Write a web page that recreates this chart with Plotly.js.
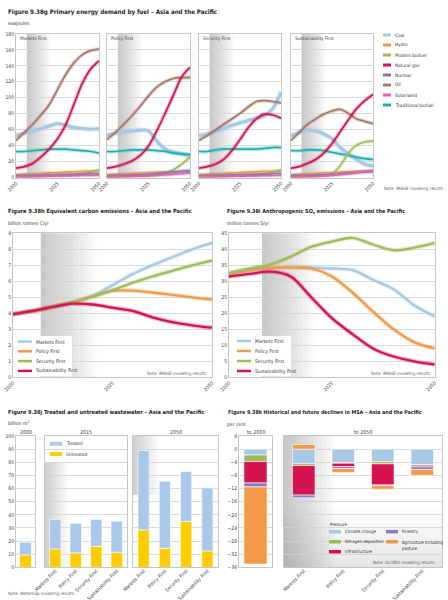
<!DOCTYPE html>
<html><head><meta charset="utf-8">
<script src="https://cdn.plot.ly/plotly-3.0.1.min.js"></script>
<style>html,body{margin:0;padding:0;background:#fff}#chart{width:448px;height:600px}</style>
</head><body><div id="chart"></div>
<script>
// ---------- DATA ----------
const years = [2000, 2005, 2010, 2015, 2020, 2025, 2030, 2035, 2040, 2045, 2050];
const scenarios = ['Markets First', 'Policy First', 'Security First', 'Sustainability First'];
const fuels = ['Coal', 'Hydro', 'Modern biofuel', 'Natural gas', 'Nuclear', 'Oil', 'Solar/wind', 'Traditional biofuel'];

// Primary energy demand (exajoules) – Markets First
const coalMF    = [52, 55, 58, 61, 64, 67, 65, 62, 61, 60, 61];
const hydroMF   = [3, 3.5, 4, 4.5, 5, 5.5, 6, 6.5, 7, 7.5, 8];
const bioMF     = [0, 0, 0.5, 1, 1.5, 2, 2.5, 3, 4, 6, 8.5];
const gasMF     = [11, 13, 17, 25, 35, 48, 66, 92, 118, 136, 146];
const nuclearMF = [1.5, 1.7, 2, 2.2, 2.5, 2.8, 3, 3.3, 3.6, 4, 4.3];
const oilMF     = [46, 56, 66, 78, 91, 110, 129, 144, 154, 159, 161];
const solarMF   = [0.3, 0.4, 0.5, 0.7, 0.9, 1.1, 1.3, 1.5, 1.8, 2, 2.3];
const tradMF    = [32, 32, 33, 34, 35, 35, 35, 34, 33, 32, 30];
// Policy First
const coalPF    = [52, 55, 57, 58, 59, 58, 45, 35, 31, 29, 27];
const hydroPF   = [3, 3.5, 4, 4.5, 5, 5.5, 6, 6, 6.5, 7, 7];
const bioPF     = [0, 0, 0.5, 1, 1.5, 2, 3, 5, 9, 16, 25];
const gasPF     = [11, 13, 16, 20, 27, 39, 58, 80, 103, 126, 138];
const nuclearPF = [1.5, 1.7, 2, 2.3, 2.7, 3.2, 4, 5, 6, 7, 8];
const oilPF     = [47, 56, 66, 77, 89, 102, 113, 120, 124, 125, 125];
const solarPF   = [0.3, 0.4, 0.5, 0.7, 1, 1.3, 1.8, 2.5, 3.3, 4.2, 5];
const tradPF    = [32, 32, 33, 34, 34, 34, 33, 32, 30, 29, 28];
// Security First
const coalSF    = [52, 54, 57, 61, 65, 68, 71, 74, 77, 86, 107];
const hydroSF   = [3, 3.5, 4, 4.5, 5, 5.5, 6, 6.5, 7, 7, 7.5];
const bioSF     = [0, 0, 0.5, 1, 1.5, 2, 2.5, 3, 4, 6, 9];
const gasSF     = [11, 13, 16, 22, 33, 47, 62, 73, 79, 78, 74];
const nuclearSF = [1.5, 1.7, 2, 2.2, 2.5, 2.7, 3, 3.3, 3.6, 4, 4.5];
const oilSF     = [46, 52, 59, 66, 73, 80, 88, 95, 96, 95, 93];
const solarSF   = [0.3, 0.4, 0.5, 0.6, 0.8, 1, 1.2, 1.4, 1.6, 1.8, 2];
const tradSF    = [32, 32, 34, 35, 35, 35, 35, 35, 36, 37, 37];
// Sustainability First
const coalSus    = [52, 56, 59, 58, 54, 48, 37, 29, 22, 16, 14];
const hydroSus   = [3, 3.5, 4, 4.5, 5, 5.5, 6, 6.5, 7, 7.5, 8];
const bioSus     = [0, 0, 0.5, 1, 2, 4, 14, 30, 40, 44, 45];
const gasSus     = [11, 13, 17, 22, 30, 42, 57, 72, 86, 96, 104];
const nuclearSus = [1.5, 1.7, 2, 2.3, 2.7, 3.2, 4, 5, 5.5, 6, 6.5];
const oilSus     = [46, 56, 66, 73, 79, 83, 85, 80, 73, 70, 67];
const solarSus   = [0.3, 0.4, 0.5, 0.8, 1.2, 1.8, 2.8, 4, 5.5, 6.8, 7.8];
const tradSus    = [33, 33, 34, 34, 33, 31, 29, 27, 25, 23, 22];

// Equivalent carbon emissions (billion tonnes C/yr)
const carbonMF  = [3.95, 4.15, 4.4, 4.7, 5.1, 5.75, 6.45, 7.0, 7.5, 8.0, 8.4];
const carbonPF  = [3.95, 4.15, 4.4, 4.7, 5.05, 5.4, 5.42, 5.3, 5.15, 5.0, 4.85];
const carbonSF  = [3.95, 4.15, 4.4, 4.7, 5.05, 5.45, 5.9, 6.3, 6.65, 7.0, 7.3];
const carbonSus = [3.95, 4.15, 4.4, 4.6, 4.55, 4.35, 4.15, 3.75, 3.45, 3.25, 3.1];

// Anthropogenic SOx emissions (million tonnes S/yr)
const soxMF  = [32.5, 33.5, 34.2, 34.5, 34.3, 34, 33.5, 30.5, 27.5, 22.5, 19];
const soxPF  = [32.5, 33.5, 34.2, 34.3, 34, 31.5, 26.5, 20.5, 15, 11, 9];
const soxSF  = [32.5, 34, 35.2, 37.7, 40.8, 42.4, 43.6, 41.5, 39.7, 40.5, 42];
const soxSus = [31.5, 32.3, 33, 31.5, 25, 18.5, 13.5, 9, 6.5, 5, 4];

// Wastewater (billion m3)
const wwLabel2000 = ['2000'];
const untreated2000 = [9.5];
const treated2000   = [9.5];
const untreated2015 = [14, 11, 16, 11.5];
const treated2015   = [22.5, 22.5, 20.5, 23.5];
const untreated2050 = [28.5, 14.5, 35, 12.5];
const treated2050   = [60.5, 51, 38, 48];

// MSA declines (per cent)
const pressures = ['Climate change', 'Nitrogen deposition', 'Infrastructure', 'Forestry', 'Agriculture including pasture'];
const msaLabel2000 = ['to 2000'];
const msa2000 = [-1.8, -2.0, -6.5, -1.2, -23.5]; // one value per pressure
const msaClimate2050   = [-4.4, -4.1, -3.8, -4.7];
const msaNitrogen2050  = [-0.6, -0.2, -0.7, -0.2];
const msaInfra2050     = [-9.0, -1.0, -6.4, -0.5];
const msaForestry2050  = [-0.8, -0.6, -0.3, -0.8];
const msaAgri2050      = [1.4, -1.2, -1.0, -1.8];

// ---------- STYLE ----------
const fuelColors = ['#a9c8e6', '#f39a4a', '#9dbd5c', '#d4134f', '#7d7bb8', '#a57868', '#e064a8', '#1eb3a9'];
const scenarioColors = ['#a9c8e6', '#f39a4a', '#9dbd5c', '#d4134f'];
const pressureColors = ['#a9c8e6', '#9dbd5c', '#d4134f', '#8a7cc0', '#f39a4a'];
const treatedColor = '#aac9ea', untreatedColor = '#ffcc00';
const fontFam = "'Liberation Sans Narrow','DejaVu Sans Condensed','Liberation Sans',Arial,sans-serif";
const txt = '#3a3a3a';

const P = px => px / 448;
const Q = py => 1 - py / 600;

const layout = {
  width: 448, height: 600, margin: {l: 0, r: 0, t: 0, b: 0},
  paper_bgcolor: '#ffffff', plot_bgcolor: '#ffffff', showlegend: false,
  barmode: 'relative', font: {family: fontFam, size: 5, color: txt},
  shapes: [], annotations: []
};

function xAx(d, anchor, extra) {
  return Object.assign({domain: [P(d[0]), P(d[1])], anchor, showline: true, mirror: true,
    linecolor: '#c6c6c6', linewidth: 1, showgrid: false, zeroline: false, ticks: '',
    tickfont: {size: 5, color: txt}, fixedrange: true, automargin: false}, extra);
}
function yAx(d, anchor, extra) {
  return Object.assign({domain: [Q(d[1]), Q(d[0])], anchor, showline: true, mirror: true,
    linecolor: '#c6c6c6', linewidth: 1, showgrid: true, gridcolor: '#d2d2d2', gridwidth: 0.8,
    zeroline: false, ticks: '', tickfont: {size: 5, color: txt}, fixedrange: true, automargin: false}, extra);
}
function gradient(xref, yref, x0, x1, n, alpha) {
  for (let k = 1; k <= n; k++) {
    layout.shapes.push({type: 'rect', xref, yref: yref + ' domain', x0, x1: x0 + (x1 - x0) * k / n,
      y0: 0, y1: 1, fillcolor: 'rgba(110,110,110,' + alpha + ')', line: {width: 0}, layer: 'below'});
  }
}
function note(text, px, py, opts) {
  layout.annotations.push(Object.assign({text, x: P(px), y: Q(py), xref: 'paper', yref: 'paper',
    xanchor: 'left', yanchor: 'middle', showarrow: false, borderpad: 0,
    font: {size: 5, color: txt}}, opts || {}));
}
function title(text, px, py, size) {
  note('<b>' + text + '</b>', px, py, {font: {size, color: '#1e1e1e'}});
}
function swatch(x0, x1, py, color, w) {
  layout.shapes.push({type: 'line', xref: 'paper', yref: 'paper', x0: P(x0), x1: P(x1),
    y0: Q(py), y1: Q(py), line: {color, width: w}, layer: 'above'});
}
function line(x, y, xa, ya, color, w) {
  data.push({type: 'scatter', mode: 'lines', x, y, xaxis: xa, yaxis: ya, hoverinfo: 'skip',
    line: {color, width: w + 2.4, shape: 'spline', smoothing: 0.9}, opacity: 0.28});
  data.push({type: 'scatter', mode: 'lines', x, y, xaxis: xa, yaxis: ya, hoverinfo: 'skip',
    line: {color, width: w, shape: 'spline', smoothing: 0.9}});
}
const sfx = i => i === 0 ? '' : String(i + 1);
const data = [];
const legFont = {size: 4.7, color: '#333'};
const catTick = {size: 5, color: txt};

// ---------- 9.38g ----------
const energy = [
  [coalMF, hydroMF, bioMF, gasMF, nuclearMF, oilMF, solarMF, tradMF],
  [coalPF, hydroPF, bioPF, gasPF, nuclearPF, oilPF, solarPF, tradPF],
  [coalSF, hydroSF, bioSF, gasSF, nuclearSF, oilSF, solarSF, tradSF],
  [coalSus, hydroSus, bioSus, gasSus, nuclearSus, oilSus, solarSus, tradSus]
];
const topXpx = [[16, 99], [107, 190], [199, 281], [291, 373]];
const drawOrder = [0, 7, 1, 2, 4, 6, 5, 3];
scenarios.forEach((sc, i) => {
  const xa = 'x' + sfx(i), ya = 'y' + sfx(i);
  layout['xaxis' + sfx(i)] = xAx(topXpx[i], ya, {range: [2000, 2050], tickvals: [2000, 2025, 2050], tickangle: -45});
  layout['yaxis' + sfx(i)] = yAx([34, 177.7], xa, {range: [-1, 180], tick0: 0, dtick: 20, showticklabels: i === 0});
  gradient(xa, ya, 2006.5, 2021, 12, 0.035);
  drawOrder.forEach(f => line(years, energy[i][f], xa, ya, fuelColors[f], f === 0 ? 3.2 : 1.7));
  note(sc, topXpx[i][0] + 3, 38.5, {font: {size: 4.7, color: '#444'}});
});
title('Figure 9.38g Primary energy demand by fuel – Asia and the Pacific', 7, 12, 6.2);
note('exajoules', 7, 23);
fuels.forEach((f, k) => {
  swatch(383, 391, 35 + 10 * k, fuelColors[k], 3);
  note(f, 393.5, 35 + 10 * k, {font: legFont});
});
note('Note: IMAGE modeling results.', 383, 188, {font: {size: 4.4, color: '#666'}});

// ---------- 9.38h ----------
layout.xaxis5 = xAx([13, 212], 'y5', {range: [2000, 2050], tickvals: [2000, 2025, 2050], tickangle: -45});
layout.yaxis5 = yAx([233.3, 377.3], 'x5', {range: [0, 9], dtick: 1});
gradient('x5', 'y5', 2007, 2021, 12, 0.035);
[carbonMF, carbonPF, carbonSF, carbonSus].forEach((s, k) => line(years, s, 'x5', 'y5', scenarioColors[k], 2.3));
title('Figure 9.38h Equivalent carbon emissions – Asia and the Pacific', 7, 212, 5.7);
note('billion tonnes C/yr', 7, 224);
layout.shapes.push({type: 'rect', xref: 'paper', yref: 'paper', x0: P(14), x1: P(72), y0: Q(376.5), y1: Q(336),
  fillcolor: '#ffffff', line: {width: 0}, layer: 'above'});
scenarios.forEach((sc, k) => {
  swatch(18, 32, 341.5 + 9.8 * k, scenarioColors[k], 2.5);
  note(sc, 35, 341.5 + 9.8 * k, {font: {size: 5, color: '#333'}});
});
note('Note: IMAGE modeling results.', 208, 373, {xanchor: 'right', font: {size: 4.4, color: '#666'}});

// ---------- 9.38i ----------
layout.xaxis6 = xAx([229, 434.7], 'y6', {range: [2000, 2050], tickvals: [2000, 2025, 2050], tickangle: -45});
layout.yaxis6 = yAx([233.3, 377.3], 'x6', {range: [0, 45], dtick: 5});
gradient('x6', 'y6', 2008, 2021, 12, 0.035);
[soxMF, soxPF, soxSF, soxSus].forEach((s, k) => line(years, s, 'x6', 'y6', scenarioColors[k], 2.3));
title('Figure 9.38i Anthropogenic SO<sub>x</sub> emissions – Asia and the Pacific', 226, 212, 5.5);
note('million tonnes S/yr', 226, 224);
layout.shapes.push({type: 'rect', xref: 'paper', yref: 'paper', x0: P(230), x1: P(291), y0: Q(376.5), y1: Q(336),
  fillcolor: '#ffffff', line: {width: 0}, layer: 'above'});
scenarios.forEach((sc, k) => {
  swatch(237, 251, 341 + 10 * k, scenarioColors[k], 2.5);
  note(sc, 254, 341 + 10 * k, {font: {size: 5, color: '#333'}});
});
note('Note: IMAGE modeling results.', 432, 373, {xanchor: 'right', font: {size: 4.4, color: '#666'}});

// ---------- 9.38j ----------
const bottomY = [436, 567.3];
layout.xaxis7 = xAx([16, 35], 'y7', {type: 'category', showticklabels: false, range: [-0.5, 0.5]});
layout.yaxis7 = yAx(bottomY, 'x7', {range: [0, 100], dtick: 10});
layout.xaxis8 = xAx([45, 127], 'y8', {type: 'category', tickangle: -45, range: [-0.5, 3.5], tickfont: catTick, ticklabelstandoff: -2});
layout.yaxis8 = yAx(bottomY, 'x8', {range: [0, 100], dtick: 10, showticklabels: false});
layout.xaxis9 = xAx([133, 218], 'y9', {type: 'category', tickangle: -45, range: [-0.5, 3.5], tickfont: catTick, ticklabelstandoff: -2});
layout.yaxis9 = yAx(bottomY, 'x9', {range: [0, 100], dtick: 10, showticklabels: false});
for (let k = 1; k <= 10; k++) {
  layout.shapes.push({type: 'rect', xref: 'x8 domain', yref: 'y8 domain', x0: 0, x1: 0.28 * k / 10, y0: 0, y1: 0.8,
    fillcolor: 'rgba(110,110,110,0.03)', line: {width: 0}, layer: 'below'});
  layout.shapes.push({type: 'rect', xref: 'x9 domain', yref: 'y9 domain', x0: 0, x1: 0.3 * k / 10, y0: 0.55, y1: 1,
    fillcolor: 'rgba(110,110,110,0.03)', line: {width: 0}, layer: 'below'});
}
const barLine = {color: '#ffffff', width: 0.6};
data.push({type: 'bar', x: wwLabel2000, y: untreated2000, xaxis: 'x7', yaxis: 'y7', width: 0.63, marker: {color: untreatedColor, line: barLine}, hoverinfo: 'skip'});
data.push({type: 'bar', x: wwLabel2000, y: treated2000, xaxis: 'x7', yaxis: 'y7', width: 0.63, marker: {color: treatedColor, line: barLine}, hoverinfo: 'skip'});
data.push({type: 'bar', x: scenarios, y: untreated2015, xaxis: 'x8', yaxis: 'y8', width: 0.56, marker: {color: untreatedColor, line: barLine}, hoverinfo: 'skip'});
data.push({type: 'bar', x: scenarios, y: treated2015, xaxis: 'x8', yaxis: 'y8', width: 0.56, marker: {color: treatedColor, line: barLine}, hoverinfo: 'skip'});
data.push({type: 'bar', x: scenarios, y: untreated2050, xaxis: 'x9', yaxis: 'y9', width: 0.53, marker: {color: untreatedColor, line: barLine}, hoverinfo: 'skip'});
data.push({type: 'bar', x: scenarios, y: treated2050, xaxis: 'x9', yaxis: 'y9', width: 0.53, marker: {color: treatedColor, line: barLine}, hoverinfo: 'skip'});
title('Figure 9.38j Treated and untreated wastewater – Asia and the Pacific', 7, 412, 5.6);
note('billion m<sup>3</sup>', 7, 423);
note('2000', 25.5, 432, {xanchor: 'center', font: {size: 5.3, color: '#444'}});
note('2015', 86, 432, {xanchor: 'center', font: {size: 5.3, color: '#444'}});
note('2050', 175.5, 432, {xanchor: 'center', font: {size: 5.3, color: '#444'}});
swatch(50, 62, 443.7, treatedColor, 4);
note('Treated', 65, 443.7, {font: legFont});
swatch(50, 62, 454, untreatedColor, 4);
note('Untreated', 65, 454, {font: legFont});
note('Note: WaterGap modeling results.', 7, 593, {font: {size: 4.4, color: '#666'}});

// ---------- 9.38k ----------
layout.xaxis10 = xAx([239, 272], 'y10', {type: 'category', showticklabels: false, range: [-0.5, 0.5]});
layout.yaxis10 = yAx(bottomY, 'x10', {range: [-36, 4], tick0: 0, dtick: 4});
layout.xaxis11 = xAx([284, 442], 'y11', {type: 'category', tickangle: -45, range: [-0.5, 3.5], tickfont: catTick, ticklabelstandoff: -2});
layout.yaxis11 = yAx(bottomY, 'x11', {range: [-36, 4], tick0: 0, dtick: 4, showticklabels: false});
for (let k = 1; k <= 12; k++) {
  layout.shapes.push({type: 'rect', xref: 'x11 domain', yref: 'y11 domain', x0: 0, x1: 0.32 * k / 12, y0: 0, y1: 1,
    fillcolor: 'rgba(110,110,110,0.03)', line: {width: 0}, layer: 'below'});
  layout.shapes.push({type: 'rect', xref: 'x11 domain', yref: 'y11 domain', x0: 0, x1: 1, y0: 0, y1: 0.45 * k / 12,
    fillcolor: 'rgba(110,110,110,0.012)', line: {width: 0}, layer: 'below'});
}
const msa2050 = [msaClimate2050, msaNitrogen2050, msaInfra2050, msaForestry2050, msaAgri2050];
pressures.forEach((p, k) => {
  data.push({type: 'bar', x: msaLabel2000, y: [msa2000[k]], xaxis: 'x10', yaxis: 'y10', width: 0.7,
    marker: {color: pressureColors[k], line: barLine}, hoverinfo: 'skip'});
  data.push({type: 'bar', x: scenarios, y: msa2050[k], xaxis: 'x11', yaxis: 'y11', width: 0.57,
    marker: {color: pressureColors[k], line: barLine}, hoverinfo: 'skip'});
});
title('Figure 9.38k Historical and future declines in MSA – Asia and the Pacific', 227, 412, 5.3);
note('per cent', 226, 424);
note('to 2000', 255.5, 432, {xanchor: 'center', font: {size: 5.3, color: '#444'}});
note('to 2050', 363, 432, {xanchor: 'center', font: {size: 5.3, color: '#444'}});
const pFont = {size: 4.4, color: '#333'};
note('Pressure', 329, 524, {font: pFont});
const legPos = [[329, 531.7], [329, 541.7], [329, 551.7], [386, 531.7], [386, 541.7]];
const legText = ['Climate change', 'Nitrogen deposition', 'Infrastructure', 'Forestry', 'Agriculture including<br>pasture'];
pressures.forEach((p, k) => {
  const [x, y] = legPos[k];
  swatch(x, x + 12, y, pressureColors[k], 3.5);
  if (k === 4) note(legText[k], x + 15, y - 3, {yanchor: 'top', align: 'left', font: pFont});
  else note(legText[k], x + 15, y, {font: pFont});
});
note('Note: GLOBIO modeling results.', 437, 562, {xanchor: 'right', font: {size: 4.4, color: '#666'}});

Plotly.newPlot('chart', data, layout, {staticPlot: true, displayModeBar: false});
</script>
</body></html>
